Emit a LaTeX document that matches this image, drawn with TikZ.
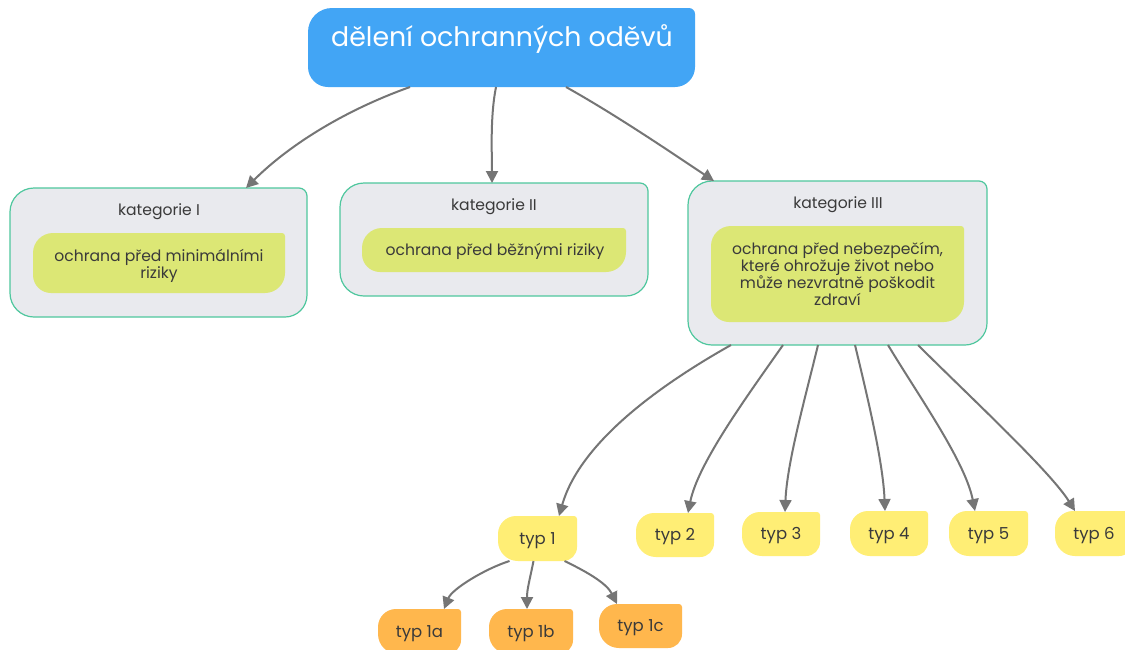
\documentclass[tikz,border=0pt]{standalone}
\usepackage{fontspec}
\setmainfont{Poppins}
\usetikzlibrary{arrows.meta,calc}

\definecolor{topblue}{HTML}{42A5F5}
\definecolor{catfill}{HTML}{E9EAEE}
\definecolor{catline}{HTML}{4FC79E}
\definecolor{innerfill}{HTML}{DCE775}
\definecolor{typyellow}{HTML}{FFEE75}
\definecolor{typorange}{HTML}{FFB74D}
\definecolor{txt}{HTML}{3A3A3A}
\definecolor{arrgray}{HTML}{757575}

% box outline with its own radius at each corner: tl, tr, br, bl
\newcommand\leafpath[6]{%
  \path[#1] let \p1=(#2.north west), \p2=(#2.south east) in
   (\x1+#3,\y1) -- (\x2-#4,\y1) arc[start angle=90,end angle=0,radius=#4]
   -- (\x2,\y2+#5) arc[start angle=0,end angle=-90,radius=#5]
   -- (\x1+#6,\y2) arc[start angle=270,end angle=180,radius=#6]
   -- (\x1,\y1-#3) arc[start angle=180,end angle=90,radius=#3] -- cycle;}

\tikzset{
  box/.style={rectangle, inner sep=0pt, outer sep=0pt},
  lbl/.style={text=txt, font=\fontsize{15.6}{17}\selectfont, align=center, inner sep=0pt},
  typlbl/.style={text=txt, font=\fontsize{16.5}{18}\selectfont, inner sep=0pt, yshift=-2pt},
  arr/.style={draw=arrgray, line width=2pt, -{Triangle[length=12pt,width=12pt]}},
}

\begin{document}
\begin{tikzpicture}[x=1pt,y=-1pt]
\useasboundingbox[fill=white] (0,0) rectangle (1125,649);

% boxes
\node[box, minimum width=387, minimum height=79]  (top)  at (501.5,47.5) {};
\node[box, minimum width=297, minimum height=129] (c1)   at (158.5,252.5) {};
\node[box, minimum width=308, minimum height=113] (c2)   at (494,239.5) {};
\node[box, minimum width=299, minimum height=164] (c3)   at (837.5,263) {};
\node[box, minimum width=252, minimum height=60]  (i1)   at (159,263) {};
\node[box, minimum width=264, minimum height=44]  (i2)   at (494,250) {};
\node[box, minimum width=253, minimum height=96]  (i3)   at (837.5,274) {};
\node[box, minimum width=79, minimum height=45]   (t1)   at (537.5,538.5) {};
\node[box, minimum width=78, minimum height=44]   (t2)   at (675,535) {};
\node[box, minimum width=78, minimum height=44]   (t3)   at (781,534) {};
\node[box, minimum width=78, minimum height=45]   (t4)   at (889,533.5) {};
\node[box, minimum width=79, minimum height=45]   (t5)   at (988.5,533.5) {};
\node[box, minimum width=78, minimum height=45]   (t6)   at (1094,533.5) {};
\node[box, minimum width=83, minimum height=45]   (t1a)  at (419.5,631.5) {};
\node[box, minimum width=84, minimum height=45]   (t1b)  at (531,631.5) {};
\node[box, minimum width=83, minimum height=44]   (t1c)  at (640.5,626) {};

% shapes
\leafpath{fill=topblue}{top}{24pt}{6pt}{20pt}{20pt}
\foreach \c in {c1,c2,c3}{\leafpath{fill=catfill, draw=catline, line width=1.2pt}{\c}{24pt}{8pt}{22pt}{24pt}}
\foreach \c in {i1,i2,i3}{\leafpath{fill=innerfill}{\c}{20pt}{3pt}{20pt}{18pt}}
\foreach \c in {t1,t2,t3,t4,t5,t6}{\leafpath{fill=typyellow}{\c}{18pt}{3pt}{14pt}{20pt}}
\foreach \c in {t1a,t1b,t1c}{\leafpath{fill=typorange}{\c}{18pt}{3pt}{14pt}{20pt}}

% texts
\node[text=white, font=\fontsize{26.8}{30}\selectfont, inner sep=0pt] (toptxt) at (502,39.5) {dělení ochranných oděvů};
\node[lbl] (c1t) at (159,212) {kategorie I};
\node[lbl] (c2t) at (494,207) {kategorie II};
\node[lbl] (c3t) at (838,205) {kategorie III};
\node[lbl] (i1t) at (159,266) {ochrana před minimálními\\riziky};
\node[lbl] (i2t) at (495,251.5) {ochrana před běžnými riziky};
\node[lbl] (i3t) at (837.5,274) {ochrana před nebezpečím,\\které ohrožuje život nebo\\může nezvratně poškodit\\zdraví};
\node[typlbl] (t1l)  at (t1)  {typ 1};
\node[typlbl] (t2l)  at (t2)  {typ 2};
\node[typlbl] (t3l)  at (t3)  {typ 3};
\node[typlbl] (t4l)  at (t4)  {typ 4};
\node[typlbl] (t5l)  at (t5)  {typ 5};
\node[typlbl] (t6l)  at (t6)  {typ 6};
\node[typlbl] (t1al) at (t1a) {typ 1a};
\node[typlbl] (t1bl) at (t1b) {typ 1b};
\node[typlbl] (t1cl) at (t1c) {typ 1c};

% connectors
\draw[arr] ([xshift=-91.5]top.south) .. controls +(-70,25) and +(40,-40) .. ([xshift=87.5]c1.north);
\draw[arr] ([xshift=-5.5]top.south) .. controls +(-6,30) and +(0,-30) .. ([xshift=-2]c2.north);
\draw[arr] ([xshift=64.5]top.south) .. controls +(50,28) and +(-45,-30) .. ([xshift=-123.5]c3.north);

\draw[arr] ([xshift=-106.5]c3.south) .. controls +(-80,45) and +(20,-70) .. ([xshift=21.5]t1.north);
\draw[arr] ([xshift=-54.5]c3.south) .. controls +(-35,50) and +(10,-50) .. ([xshift=13]t2.north);
\draw[arr] ([xshift=-19.5]c3.south) .. controls +(-12,50) and +(2,-50) .. ([xshift=4]t3.north);
\draw[arr] ([xshift=17.5]c3.south) .. controls +(12,50) and +(-2,-50) .. ([xshift=-4]t4.north);
\draw[arr] ([xshift=50.5]c3.south) .. controls +(30,50) and +(-10,-50) .. ([xshift=-13.5]t5.north);
\draw[arr] ([xshift=80.5]c3.south) .. controls +(50,50) and +(-25,-40) .. ([xshift=-19]t6.north);

\draw[arr] ([xshift=-28]t1.south) .. controls +(-25,8) and +(8,-20) .. ([xshift=24.5]t1a.north);
\draw[arr] ([xshift=-4]t1.south) .. controls +(-4,20) and +(0,-20) .. ([xshift=-4]t1b.north);
\draw[arr] ([xshift=27]t1.south) .. controls +(25,12) and +(-10,-20) .. ([xshift=-23.5]t1c.north);
\end{tikzpicture}
\end{document}
